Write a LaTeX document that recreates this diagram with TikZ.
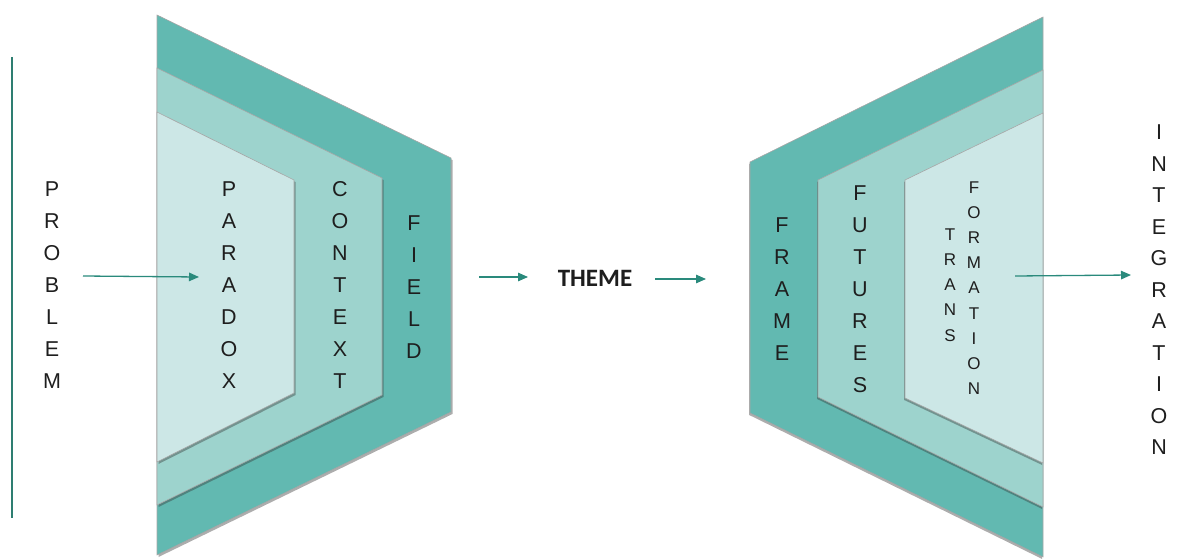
\documentclass[tikz,border=0pt]{standalone}
\usepackage{fontspec}
\setmainfont{Liberation Sans}
\newfontfamily\themefont{Carlito}
\usetikzlibrary{arrows.meta,shadows}
\definecolor{outerc}{HTML}{62B9B1}
\definecolor{midc}{HTML}{9DD3CD}
\definecolor{innerc}{HTML}{CCE7E6}
\definecolor{arrowc}{HTML}{2A8A7C}
\definecolor{linec}{HTML}{2E7E71}
\definecolor{txt}{HTML}{1E1E1E}
\tikzset{
  panel/.style={draw=black!35, line width=0.6pt,
    drop shadow={shadow xshift=1.5pt, shadow yshift=-2pt, opacity=0.4, fill=black!80}},
  rpanel/.style={draw=black!35, line width=0.6pt,
    drop shadow={shadow xshift=-0.8pt, shadow yshift=-2pt, opacity=0.4, fill=black!80}},
  vword/.style={text=txt, align=center, inner sep=0pt,
    font=\fontsize{21.5}{32}\selectfont},
  vsmall/.style={text=txt, align=center, inner sep=0pt,
    font=\fontsize{17}{25.2}\selectfont},
  flow/.style={draw=arrowc, line width=1.3pt,
    -{Triangle[length=10pt,width=8.5pt]}},
}
\begin{document}
\begin{tikzpicture}[x=1pt,y=-1pt]
\useasboundingbox (0,0) rectangle (1194,559);

% left vertical line
\draw[linec, line width=1.8pt] (12,57) -- (12,518);

% left funnel
\fill[outerc, panel] (157,15) -- (451,158) -- (451,412) -- (157,555) -- cycle;
\fill[midc, panel] (157,68) -- (382,178) -- (382,395) -- (157,505) -- cycle;
\fill[innerc, panel] (157,112) -- (294,180) -- (294,393) -- (157,462) -- cycle;

% right funnel
\fill[outerc, rpanel] (1043,17) -- (750,162) -- (750,413) -- (1043,557) -- cycle;
\fill[midc, rpanel] (1043,70) -- (818,180) -- (818,397) -- (1043,507) -- cycle;
\fill[innerc, rpanel] (1043,113) -- (905,180) -- (905,398) -- (1043,463) -- cycle;

% words
\node[vword] (problem) at (52,285) {P\\R\\O\\B\\L\\E\\M};
\node[vword] (paradox) at (229,285) {P\\A\\R\\A\\D\\O\\X};
\node[vword] (context) at (340,285) {C\\O\\N\\T\\E\\X\\T};
\node[vword] (field) at (414,287) {F\\I\\E\\L\\D};
\node[text=txt, font=\themefont\bfseries\fontsize{25}{28}\selectfont] (theme) at (595,278) {THEME};
\node[vword] (frame) at (782,289) {F\\R\\A\\M\\E};
\node[vword] (futures) at (860,289) {F\\U\\T\\U\\R\\E\\S};
\node[vsmall] (trans) at (950,285) {T\\R\\A\\N\\S};
\node[vsmall] (formation) at (974,288) {F\\O\\R\\M\\A\\T\\I\\O\\N};
\node[vword, font=\fontsize{21.5}{31.5}\selectfont] (integration) at (1159,290) {I\\N\\T\\E\\G\\R\\A\\T\\I\\O\\N};

% arrows
\coordinate (p1) at (83,276);
\coordinate (p2) at (199,277);
\coordinate (t1) at (479,277);
\coordinate (t2) at (528,277);
\coordinate (t3) at (655,279);
\coordinate (t4) at (706,279);
\coordinate (i1) at (1015,276);
\coordinate (i2) at (1131,275);
\draw[flow] (p1) -- (p2);
\draw[flow] (t1) -- (t2);
\draw[flow] (t3) -- (t4);
\draw[flow] (i1) -- (i2);
\end{tikzpicture}
\end{document}
